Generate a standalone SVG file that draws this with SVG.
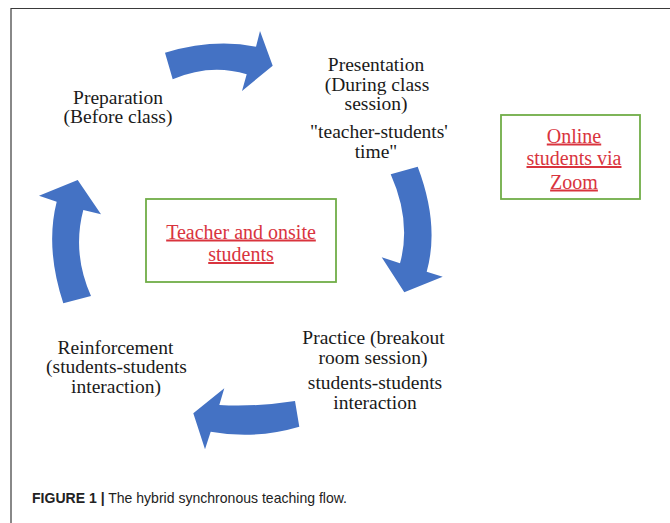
<svg xmlns="http://www.w3.org/2000/svg" width="670" height="523" viewBox="0 0 670 523">
<style>
.arrow{fill:#4472C4}
.lbl{font-family:"Liberation Serif","Times New Roman",serif;font-size:19.5px;fill:#1a1a1a;text-anchor:middle}
.box{fill:#fff;stroke:#70AD47;stroke-width:1.8}
.link{font-family:"Liberation Serif","Times New Roman",serif;font-size:20px;fill:#D9343E;text-anchor:middle;text-decoration:underline}
.cap{font-family:"Liberation Sans",Arial,sans-serif;font-size:15px;fill:#222}
</style>
<rect width="670" height="523" fill="#fff"/>
<path d="M11,523 V8.5 H670" fill="none" stroke="#3a3a3a" stroke-width="1.2"/>
<g id="connectors">
<path class="arrow" d="M165,52.7 Q213.5,38.2 256,46.7 L260,31 L272.7,65.7 L242,91 L246.7,74.3 Q210.3,63.2 172.7,79.3 Z"/>
<path class="arrow" d="M390.7,174.3 L417.7,166.7 Q439.8,224.8 426.7,271.7 L442.7,276.7 L404.3,292.3 L381.7,257.3 L400,263.3 Q411.6,221.2 390.7,174.3 Z"/>
<path class="arrow" d="M299.3,426.7 L295,401 Q256.9,407 219.3,405 L224.3,388.3 L193.3,413.3 L205,449.3 L210.7,431.7 Q255,439.8 299.3,426.7 Z"/>
<path class="arrow" d="M63.3,303.3 Q45,247.6 56.7,201.7 L39,195.7 L77.7,180 L101,214.3 L83.3,210 Q71.9,253 91,296 Z"/>
</g>
<g id="preparation">
<text class="lbl" x="118" y="103.5">Preparation</text>
<text class="lbl" x="118" y="123">(Before class)</text>
</g>
<g id="presentation">
<text class="lbl" x="376" y="71">Presentation</text>
<text class="lbl" x="377" y="90.5">(During class</text>
<text class="lbl" x="376" y="110">session)</text>
<text class="lbl" x="379" y="138">"teacher-students'</text>
<text class="lbl" x="376" y="157.5">time"</text>
</g>
<g id="practice">
<text class="lbl" x="373.5" y="344">Practice (breakout</text>
<text class="lbl" x="373" y="363.5">room session)</text>
<text class="lbl" x="375" y="389">students-students</text>
<text class="lbl" x="375" y="408.5">interaction</text>
</g>
<g id="reinforcement">
<text class="lbl" x="115.5" y="353.5">Reinforcement</text>
<text class="lbl" x="116.5" y="373">(students-students</text>
<text class="lbl" x="116" y="392.5">interaction)</text>
</g>
<g id="teacher-box">
<rect class="box" x="146" y="199" width="190" height="83"/>
<text class="link" x="241" y="238.5">Teacher and onsite</text>
<text class="link" x="241" y="261">students</text>
</g>
<g id="online-box">
<rect class="box" x="501" y="115" width="139" height="84"/>
<text class="link" x="574" y="142.5">Online</text>
<text class="link" x="574" y="165">students via</text>
<text class="link" x="574" y="188.5">Zoom</text>
</g>
<text class="cap" x="32" y="503" textLength="315" lengthAdjust="spacingAndGlyphs"><tspan font-weight="bold">FIGURE 1 |</tspan> The hybrid synchronous teaching flow.</text>
</svg>
